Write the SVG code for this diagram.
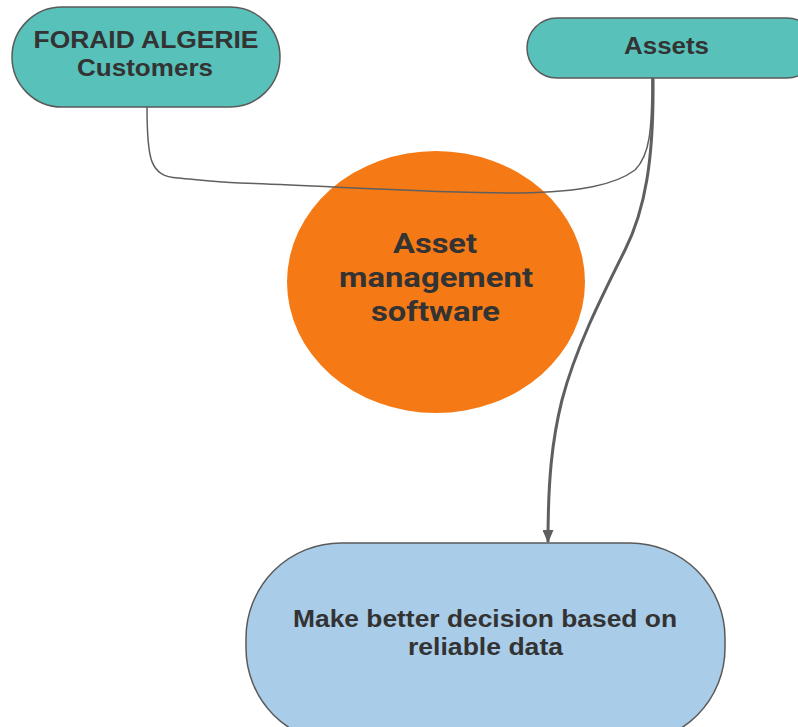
<svg xmlns="http://www.w3.org/2000/svg" width="798" height="727" viewBox="0 0 798 727">
<style>
.lbl{font-family:"Liberation Sans",Arial,sans-serif;font-weight:bold;fill:#333;text-anchor:middle;font-size:23px}
.big{font-family:Roboto,"Liberation Sans",Arial,sans-serif;font-size:27px}
.teal{fill:#57c1ba;stroke:#5a5a5a;stroke-width:1.5}
.conn{fill:none;stroke:#5f5f5f}
</style>
<defs>
<marker id="arr" markerWidth="13" markerHeight="11" refX="12" refY="5.5" orient="auto" markerUnits="userSpaceOnUse" viewBox="0 0 13 11">
<path d="M0,0 L13,5.5 L0,11 Z" fill="#5f5f5f"/>
</marker>
</defs>
<rect width="798" height="727" fill="#fff"/>
<g id="software">
<ellipse cx="436" cy="282" rx="149" ry="131" fill="#f57a15"/>
<text class="lbl big" x="435" y="253" textLength="84" lengthAdjust="spacingAndGlyphs">Asset</text>
<text class="lbl big" x="436" y="287" textLength="194" lengthAdjust="spacingAndGlyphs">management</text>
<text class="lbl big" x="435.5" y="321" textLength="129" lengthAdjust="spacingAndGlyphs">software</text>
</g>
<g id="connectors">
<path class="conn" stroke-width="1.5" d="M147,107 C147,160 150,176 178,178 C200,180 215,182 240,183 C330,186 430,193 520,193 C580,192 615,185 635,170 C650,155 652,130 652,78"/>
<path class="conn" stroke-width="3" marker-end="url(#arr)" d="M653,78 C654,160 645,210 625,250 C600,300 575,350 562,400 C552,440 548,480 548,542"/>
</g>
<g id="customers">
<rect class="teal" x="12" y="7" width="268" height="100" rx="50" ry="50"/>
<text class="lbl" x="146" y="48" textLength="225" lengthAdjust="spacingAndGlyphs">FORAID ALGERIE</text>
<text class="lbl" x="145" y="76" textLength="136" lengthAdjust="spacingAndGlyphs">Customers</text>
</g>
<g id="assets">
<rect class="teal" x="527" y="18" width="290" height="60" rx="30" ry="30"/>
<text class="lbl" x="666.5" y="54" textLength="85" lengthAdjust="spacingAndGlyphs">Assets</text>
</g>
<g id="decision">
<rect x="246" y="543" width="479" height="200" rx="95" ry="95" fill="#a9cce8" stroke="#5a5a5a" stroke-width="1.5"/>
<text class="lbl" x="485" y="627" textLength="384" lengthAdjust="spacingAndGlyphs">Make better decision based on</text>
<text class="lbl" x="485.5" y="655" textLength="155" lengthAdjust="spacingAndGlyphs">reliable data</text>
</g>
</svg>
